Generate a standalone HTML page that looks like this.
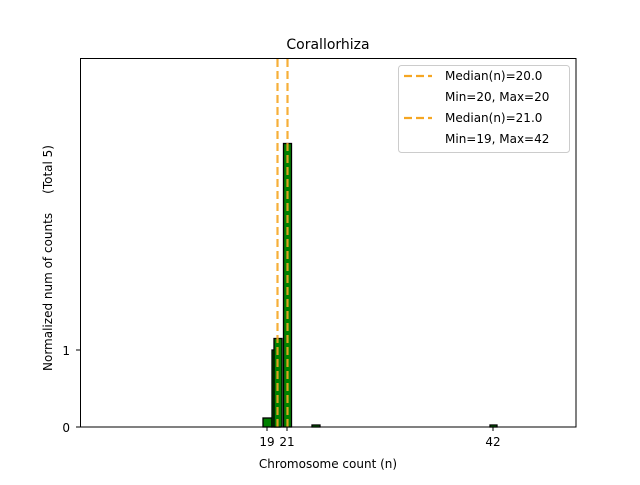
<!DOCTYPE html>
<html><head><style>body{margin:0;background:#fff}</style></head><body>
<svg width="640" height="480" xmlns="http://www.w3.org/2000/svg" font-family="DejaVu Sans, Liberation Sans, sans-serif">
<rect width="640" height="480" fill="#fff"/>
<text x="328" y="49" font-size="14" text-anchor="middle">Corallorhiza</text>
<!-- bars -->
<g fill="#008000" stroke="#000" stroke-width="1.3">
<rect x="263" y="418" width="9" height="9"/>
<rect x="272" y="350" width="8" height="77" fill="#006000"/>
<rect x="274" y="338.5" width="8" height="88.5"/>
<rect x="283.5" y="143.5" width="8" height="283.5"/>
<rect x="312" y="425" width="8" height="2"/>
<rect x="490" y="425" width="7" height="2"/>
</g>
<g stroke="#f5a623" stroke-opacity="0.9" stroke-width="2.2" stroke-dasharray="8,4">
<line x1="277.5" y1="59" x2="277.5" y2="427"/>
<line x1="287.5" y1="59" x2="287.5" y2="427"/>
</g>
<rect x="80.5" y="58.5" width="495.5" height="368.5" fill="none" stroke="#000" stroke-width="1"/>
<g stroke="#000">
<line x1="76" y1="427" x2="80" y2="427"/><line x1="76" y1="350" x2="80" y2="350"/>
<line x1="267" y1="427" x2="267" y2="431"/><line x1="287" y1="427" x2="287" y2="431"/><line x1="493" y1="427" x2="493" y2="431"/>
</g>
<g font-size="12">
<text x="70" y="432" text-anchor="end">0</text>
<text x="70" y="355" text-anchor="end">1</text>
<text x="267" y="446" text-anchor="middle">19</text>
<text x="287" y="446" text-anchor="middle">21</text>
<text x="493" y="446" text-anchor="middle">42</text>
<text x="328" y="468" text-anchor="middle">Chromosome count (n)</text>
<text transform="translate(52,258) rotate(-90)" text-anchor="middle" xml:space="preserve">Normalized num of counts     (Total 5)</text>
</g>
<rect x="398.5" y="65.5" width="171" height="87" rx="3" fill="#fff" stroke="#ccc"/>
<g stroke="#f5a623" stroke-width="2.2" stroke-dasharray="8,4"><line x1="404" y1="76" x2="432" y2="76"/><line x1="404" y1="118" x2="432" y2="118"/></g>
<g font-size="12">
<text x="445" y="80">Median(n)=20.0</text>
<text x="445" y="101">Min=20, Max=20</text>
<text x="445" y="122">Median(n)=21.0</text>
<text x="445" y="143">Min=19, Max=42</text>
</g>
</svg>
</body></html>
